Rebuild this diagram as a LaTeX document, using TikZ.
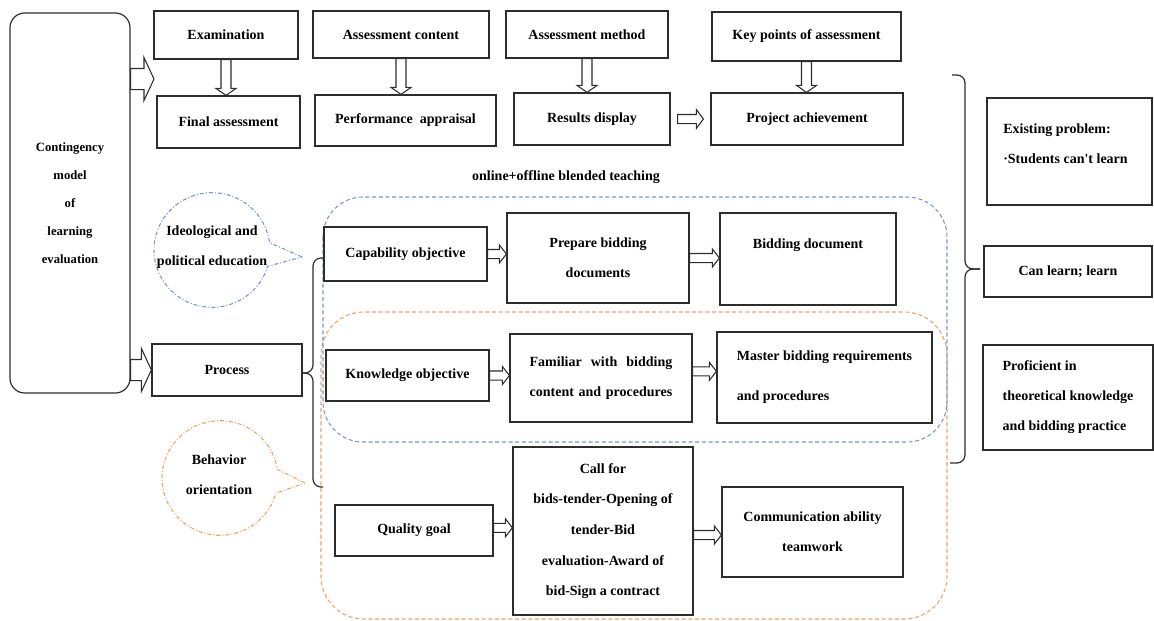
\documentclass[tikz,border=0pt]{standalone}
\usepackage{fontspec}
\setmainfont{Liberation Serif}[Ligatures=TeXOff]
\usetikzlibrary{calc,shapes.callouts}
\definecolor{bluec}{RGB}{120,150,200}
\definecolor{orangec}{RGB}{238,160,100}
\definecolor{linec}{RGB}{45,45,45}
% hollow arrow to the right: start, end, shaft half width, head half width, head length
\newcommand\arrR[5]{\draw[hollow] let \p1=(#1), \p2=(#2) in
  (\x1,{\y1+#3}) -- ({\x2-#5},{\y1+#3}) -- ({\x2-#5},{\y1+#4}) -- (\x2,\y1)
  -- ({\x2-#5},{\y1-#4}) -- ({\x2-#5},{\y1-#3}) -- (\x1,{\y1-#3}) -- cycle;}
% hollow arrow downwards
\newcommand\arrD[5]{\draw[hollow] let \p1=(#1), \p2=(#2) in
  ({\x1-#3},\y1) -- ({\x1-#3},{\y2+#5}) -- ({\x1-#4},{\y2+#5}) -- (\x1,\y2)
  -- ({\x1+#4},{\y2+#5}) -- ({\x1+#3},{\y2+#5}) -- ({\x1+#3},\y1) -- cycle;}
\begin{document}
\begin{tikzpicture}[x=0.75pt,y=-0.75pt,
  box/.style={draw=linec, line width=0.9pt, fill=white, inner sep=2pt, align=center,
    font=\bfseries\fontsize{10.5}{22.5}\selectfont},
  sz/.style 2 args={minimum width=#1*0.75pt, minimum height=#2*0.75pt},
  txt/.style={inner sep=0pt, align=center, font=\bfseries\fontsize{10.5}{22.5}\selectfont},
  hollow/.style={draw=linec, line width=0.8pt, fill=white},
  bluedash/.style={draw=bluec, line width=0.8pt, dash pattern=on 3pt off 2pt},
  orangedash/.style={draw=orangec, line width=0.8pt, dash pattern=on 3pt off 2pt},
  bubble/.style={ellipse callout, inner sep=0pt, line width=0.8pt,
    dash pattern=on 3pt off 1.5pt on 0.8pt off 1.5pt, callout pointer arc=24,
    minimum width=87pt, minimum height=86pt},
  bracestyle/.style={draw=linec, line width=0.9pt, rounded corners=6pt}]
\useasboundingbox (0,0) rectangle (1154,621);

% dashed groups
\draw[orangedash, rounded corners=32pt] (321,312) rectangle (947,619);
\draw[bluedash, rounded corners=30pt] (323,197) rectangle (947,442);

% left main box
\node[box, rounded corners=11pt, sz={120}{380}, font=\bfseries\fontsize{9.5}{21}\selectfont] (cm) at (70,203)
  {Contingency\\model\\of\\learning\\evaluation};

% top rows
\node[box, sz={144}{48}] (exam) at (226,35) {Examination};
\node[box, sz={143}{52}] (final) at (228.5,122) {Final assessment};
\node[box, sz={176}{47}] (acont) at (401,34.5) {Assessment content};
\node[box, sz={181}{51}] (perf) at (405.5,120.5) {Performance\ \ appraisal};
\node[box, sz={162}{47}] (ameth) at (587,34.5) {Assessment method};
\node[box, sz={156}{52}] (res) at (592,119) {Results display};
\node[box, sz={189}{49}] (key) at (806.5,36.5) {Key points of assessment};
\node[box, sz={192}{52}] (proj) at (807,119) {Project achievement};

\arrD{exam.south}{final.north}{3.75pt}{7.5pt}{5.25pt}
\arrD{acont.south}{perf.north}{3.75pt}{7.5pt}{5.25pt}
\arrD{ameth.south}{res.north}{3.75pt}{7.5pt}{5.25pt}
\arrD{key.south}{proj.north}{3.75pt}{7.5pt}{5.25pt}
\arrR{[xshift=5.25pt]res.east}{[xshift=-5.25pt]proj.west}{3.4pt}{7pt}{5.25pt}

\node[txt] (blend) at (566,177) {online+offline blended teaching};

% right column
\node[box, sz={165}{107}] (ep) at (1069.5,151.5) {};
\node[txt, align=left, anchor=west] (eptxt) at (1003,143.5) {Existing problem:\\·Students can't learn};
\node[box, sz={168}{51}] (can) at (1068,271.5) {Can learn; learn};
\node[box, sz={170}{105}, align=left] (prof) at (1068,397.5) {Proficient in\\theoretical knowledge\\and bidding practice};

% process
\node[box, sz={150}{52}] (proc) at (227,370) {Process};
\coordinate (topA) at (154,79);
\arrR{cm.east |- topA}{topA}{7.9pt}{16.1pt}{7.5pt}
\arrR{cm.east |- proc.west}{proc.west}{7.9pt}{16.1pt}{7.5pt}

% braces
\coordinate (lbTop) at (323,258);
\coordinate (lbBot) at (323,487);
\coordinate (lbTip) at (302,373);
\draw[bracestyle] (lbTop) -| (313,373) -- (lbTip);
\draw[bracestyle] (lbBot) -| (313,373) -- (lbTip);
\coordinate (rbTop) at (952,75);
\coordinate (rbBot) at (950,463);
\coordinate (rbTip) at (980,269);
\draw[bracestyle] (rbTop) -| (965,269) -- (rbTip);
\draw[bracestyle] (rbBot) -| (965,269) -- (rbTip);

% callout bubbles
\coordinate (tipI) at (302,257);
\coordinate (tipB) at (305,483);
\node[bubble, draw=bluec, callout absolute pointer={(tipI)}] (ideo) at (212,250) {};
\node[txt] (ideotxt) at (212,247.5) {Ideological and\\political education};
\node[bubble, draw=orangec, callout absolute pointer={(tipB)}] (beh) at (220,478) {};
\node[txt] (behtxt) at (219,474.5) {Behavior\\orientation};

% capability row
\node[box, sz={163}{54}] (cap) at (405.5,254) {Capability objective};
\node[box, sz={182}{90}] (prep) at (598,258) {Prepare bidding\\documents};
\node[box, sz={176}{92}] (bid) at (808,259) {Bidding document\\~};
\arrR{cap.east}{prep.west}{3.4pt}{6.75pt}{5.25pt}
\arrR{prep.east}{bid.west}{3.4pt}{6.75pt}{5.25pt}

% knowledge row
\node[box, sz={163}{51}] (know) at (407.5,375.5) {Knowledge objective};
\node[box, sz={182}{88}, text width=107pt] (fam) at (601,378) {Familiar\hfill with\hfill bidding\\content and procedures};
\node[box, sz={215}{91}, align=left] (mast) at (824.5,377.5) {Master bidding requirements\\[7.5pt]and procedures};
\arrR{know.east}{fam.west}{3.4pt}{6.75pt}{5.25pt}
\arrR{[yshift=5pt]fam.east}{mast.west}{3.4pt}{6.75pt}{5.25pt}

% quality row
\node[box, sz={158}{51}] (qual) at (414,530.5) {Quality goal};
\node[box, sz={180}{168}, font=\bfseries\fontsize{10.5}{23}\selectfont] (call) at (603,531)
  {Call for\\bids-tender-Opening of\\tender-Bid\\evaluation-Award of\\bid-Sign a contract};
\node[box, sz={181}{90}] (comm) at (812.5,532) {Communication ability\\teamwork};
\arrR{[yshift=2pt]qual.east}{call.west}{3.4pt}{6.75pt}{5.25pt}
\arrR{[yshift=-3pt]call.east}{comm.west}{3.4pt}{6.75pt}{5.25pt}
\end{tikzpicture}
\end{document}
